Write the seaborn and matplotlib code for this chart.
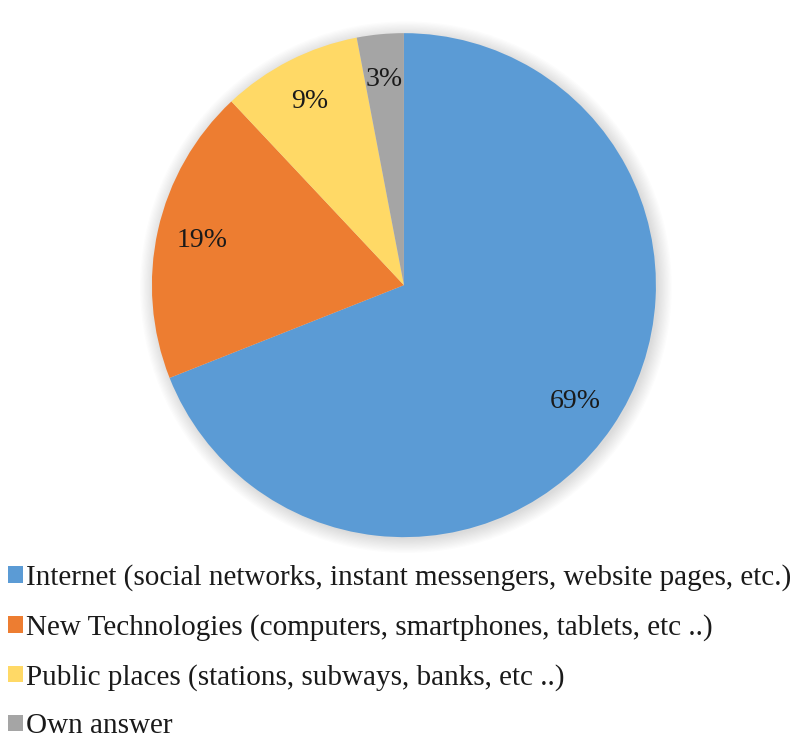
import matplotlib
matplotlib.use("Agg")
import matplotlib.pyplot as plt
import matplotlib.patches as mpatches
import seaborn as sns

# Data
categories = [
    "Internet (social networks, instant messengers, website pages, etc.)",
    "New Technologies (computers, smartphones, tablets, etc ..)",
    "Public places (stations, subways, banks, etc ..)",
    "Own answer",
]
shares = [69, 19, 9, 3]
colors = ["#5B9BD5", "#ED7D31", "#FFD966", "#A5A5A5"]

sns.set_theme(style="white")
plt.rcParams["font.family"] = ["Liberation Serif", "DejaVu Serif"]

fig = plt.figure(figsize=(8.08, 7.45), dpi=100)
ax = fig.add_axes([0.188, 0.279, 0.6238, 0.6765])

# soft shadow behind the pie
for i in range(12):
    ax.add_patch(mpatches.Circle((0.008, -0.008), 1.0 + 0.005 * i, color="black",
                                 alpha=0.01, lw=0, zorder=0, clip_on=False))

wedges, texts, autotexts = ax.pie(
    shares, colors=colors, startangle=90, counterclock=False,
    autopct=lambda p: f"{p:.0f}%", pctdistance=0.82,
    wedgeprops=dict(linewidth=0), textprops=dict(fontsize=20, color="#1a1a1a"),
)
ax.set_xlim(-1, 1)
ax.set_ylim(-1, 1)
ax.set_aspect("equal")
ax.axis("off")

fig.legend(wedges, categories, loc="upper left", bbox_to_anchor=(-0.008, 0.262),
           frameon=False, fontsize=21, handlelength=0.5, handleheight=0.5,
           handletextpad=0.1, labelspacing=0.78, borderaxespad=0.1,
           labelcolor="#1a1a1a")

fig.savefig("out.png", dpi=100)
